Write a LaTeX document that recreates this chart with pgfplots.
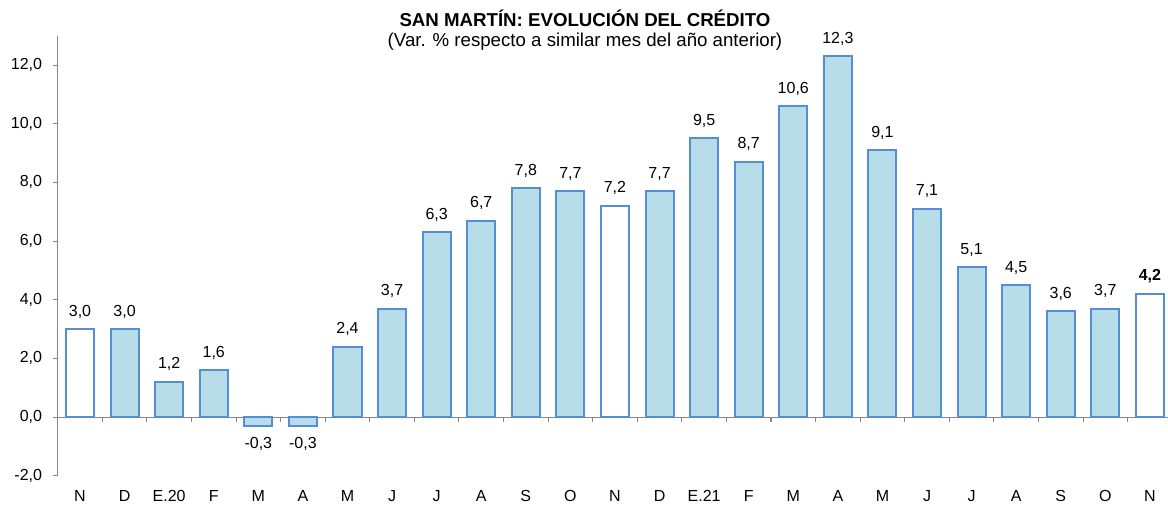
\documentclass[border=0pt]{standalone}
\usepackage{pgfplots}
\pgfplotsset{compat=1.18}
\usepackage{fontspec}
\setmainfont{Liberation Sans}
\definecolor{barfill}{RGB}{183,222,232}
\definecolor{baredge}{RGB}{85,142,213}
\definecolor{axgray}{RGB}{134,134,134}
\begin{document}
\begin{tikzpicture}[font=\fontsize{12}{14}\selectfont]
\begin{axis}[
 at={(43.3pt,21.2pt)}, anchor=south west,
 scale only axis, width=832.5pt, height=330pt,
 xmin=-0.5, xmax=24.4, ymin=-2, ymax=13,
 axis x line=middle, axis y line=left,
 axis line style={-, draw=axgray, line width=0.8pt},
 ytick={-2,0,...,12},
 xtick={0,...,24},
 xticklabels={N,D,E.20,F,M,A,M,J,J,A,S,O,N,D,E.21,F,M,A,M,J,J,A,S,O,N},
 minor xtick={0.5,1.5,...,23.5},
 tick align=outside,
 major x tick style={draw=none},
 minor x tick style={draw=axgray, line width=0.8pt},
 y tick style={draw=axgray, line width=0.8pt},
 major tick length=3.75pt, minor tick length=3.75pt,
 every tick label/.append style={font=\fontsize{12}{14}\selectfont},
 xticklabel style={yshift=-48pt},
 yticklabel style={xshift=-4.5pt},
 /pgf/number format/fixed, /pgf/number format/fixed zerofill,
 /pgf/number format/precision=1, /pgf/number format/use comma,
 /pgf/number format/assume math mode=true,
 ybar, bar width=0.63, bar shift=0pt,
 nodes near coords,
 nodes near coords style={font=\fontsize{12}{14}\selectfont, text=black, inner sep=7.5pt},
 clip=false,
]
\addplot[draw=baredge, fill=barfill, line width=1.5pt] coordinates {
 (1,3.0) (2,1.2) (3,1.6) (4,-0.3) (5,-0.3) (6,2.4) (7,3.7) (8,6.3) (9,6.7)
 (10,7.8) (11,7.7) (13,7.7) (14,9.5) (15,8.7) (16,10.6) (17,12.3) (18,9.1)
 (19,7.1) (20,5.1) (21,4.5) (22,3.6) (23,3.7)};
\addplot[draw=baredge, fill=white, line width=1.5pt] coordinates {(0,3.0) (12,7.2)};
\addplot[draw=baredge, fill=white, line width=1.5pt,
 nodes near coords style={font=\bfseries\fontsize{12}{14}\selectfont, text=black, inner sep=7.5pt}] coordinates {(24,4.2)};
\end{axis}
\node[anchor=base, font=\bfseries\fontsize{14}{16}\selectfont] at (438.75pt,357.75pt) {SAN MARTÍN: EVOLUCIÓN DEL CRÉDITO};
\node[anchor=base, font=\fontsize{14}{16}\selectfont] at (438.75pt,342.75pt) {(Var. \% respecto a similar mes del año anterior)};
\pgfresetboundingbox
\path (0,0) rectangle (876pt,378pt);
\end{tikzpicture}
\end{document}
